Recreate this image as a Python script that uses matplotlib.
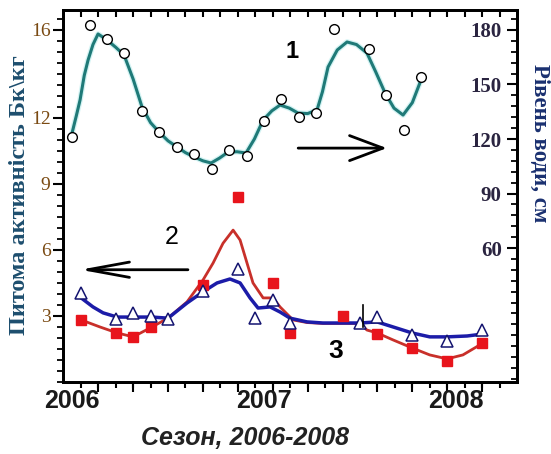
import numpy as np
import matplotlib.pyplot as plt

# Місяці від початку сезону (0 = 2006)
# 1 - рівень води (кружки), права вісь
level_month = [0, 1, 2, 3, 4, 5, 6, 7, 8, 9, 10, 11, 12, 13, 14, 15, 17, 18, 19, 20]
level_value = [121, 182.7, 175, 167.3, 135.4, 123.8, 115.6, 111.7, 103.5, 113.9,
               110.6, 129.9, 142, 132.1, 134.3, 180.5, 169.5, 144.2, 124.9, 154.1]
# згладжена крива рівня води
level_curve_month = [0, 0.25, 0.46, 0.7, 0.92, 1.2, 1.49, 2.0, 2.5, 2.98, 3.5, 4.01, 4.5,
                     4.99, 5.5, 6.02, 6.5, 7.0, 7.5, 7.97, 8.45, 8.94, 9.45, 9.97, 10.45,
                     10.95, 11.45, 11.92, 12.45, 12.95, 13.5, 14.04, 14.35, 14.67, 15.2,
                     15.76, 16.3, 16.9, 17.4, 17.94, 18.45, 18.97, 19.5, 20]
level_curve_value = [123.3, 133, 141.5, 155, 163.5, 172, 177.8, 174.5, 170.5, 166.2, 153,
                     137.6, 129, 123.8, 119, 115.6, 112.5, 110.1, 108, 106.8, 109.5, 112.8,
                     113, 112.3, 120, 130.4, 135.5, 138.7, 137, 134.3, 134, 136, 146, 159.6,
                     169, 173.4, 172, 167.3, 157, 145.3, 137, 133.2, 140, 152.5]

# 2 - питома активність (трикутники), ліва вісь
tri_month = [0.5, 2.5, 3.5, 4.5, 5.5, 7.5, 9.5, 10.5, 11.5, 12.5, 16.5, 17.5, 19.5, 21.5, 23.5]
tri_value = [4.05, 2.86, 3.14, 3.0, 2.86, 4.14, 5.14, 2.9, 3.73, 2.68, 2.68, 2.95, 2.14, 1.86, 2.36]
blue_curve_month = [0.52, 1.2, 1.78, 2.58, 3.55, 4.58, 5.5, 6.59, 7.51, 8.31, 9.05, 9.63,
                    10.2, 10.66, 11.35, 11.92, 12.49, 13.47, 14.38, 16.5, 17.48, 18.4,
                    19.48, 20.5, 21.49, 22.64, 23.55]
blue_curve_value = [3.82, 3.41, 3.14, 2.95, 2.95, 2.95, 2.9, 3.59, 4.1, 4.5, 4.68, 4.5,
                    3.82, 3.36, 3.41, 3.18, 2.9, 2.73, 2.68, 2.68, 2.73, 2.5, 2.23, 2.05,
                    2.05, 2.09, 2.18]

# 3 - питома активність (квадрати), ліва вісь
sq_month = [0.5, 2.5, 3.5, 4.5, 7.5, 9.5, 11.5, 12.5, 15.5, 17.5, 19.5, 21.5, 23.5]
sq_value = [2.82, 2.23, 2.05, 2.5, 4.41, 8.4, 4.5, 2.23, 3.0, 2.18, 1.55, 0.95, 1.77]
red_curve_month = [0.52, 1.6, 2.58, 3.5, 4.58, 5.5, 6.59, 7.51, 8.08, 8.65, 9.23, 9.63,
                   10.37, 10.95, 11.52, 11.92, 12.66, 13.47, 14.38, 16.5, 16.9, 17.48,
                   18.4, 19.48, 20.5, 21.49, 22.4, 23.55]
red_curve_value = [2.82, 2.5, 2.23, 2.05, 2.5, 2.9, 3.64, 4.64, 5.4, 6.3, 6.9, 6.45, 4.5,
                   3.82, 3.82, 3.41, 2.82, 2.7, 2.66, 2.66, 2.36, 2.23, 1.91, 1.55, 1.23,
                   1.05, 1.23, 1.77]

year_pos = [0, 11, 22]
year_labels = ['2006', '2007', '2008']

fig = plt.figure(figsize=(5.51, 4.54), dpi=100)
ax = fig.add_axes([0.1143, 0.1586, 0.824, 0.8194])
ax2 = ax.twinx()

# нижні криві
ax.plot(red_curve_month, red_curve_value, color='#c8302a', lw=2, zorder=2)
ax.plot(blue_curve_month, blue_curve_value, color='#1c1ca8', lw=2.5, zorder=3)
ax.plot(sq_month, sq_value, 's', color='#e8141c', ms=6.5, zorder=4)
ax.plot(tri_month, tri_value, '^', mfc='white', mec='#141470', mew=1.1, ms=9, zorder=5)

# крива 1
ax2.plot(level_curve_month, level_curve_value, color='#a8e8e8', lw=4, alpha=0.5, zorder=2)
ax2.plot(level_curve_month, level_curve_value, color='#1f7a78', lw=2.2, zorder=3)
ax2.plot(level_month, level_value, 'o', mfc='white', mec='black', mew=1, ms=7, zorder=4)

ax.set_xlim(-0.52, 25.5)
ax.set_ylim(0, 16.9)
ax2.set_ylim(-13.7, 191)

# підписи років і штрихи
ax.set_xticks(year_pos, year_labels, fontsize=18, fontfamily='Liberation Sans', fontweight='bold',
              color='#1a1a1a')
ax.tick_params(axis='x', which='major', length=0, pad=5)
ax.set_xticks(np.arange(0.5, 25.5, 1), minor=True)
ax.tick_params(axis='x', which='minor', direction='out', length=4, width=1.5)
sec = ax.secondary_xaxis('bottom')
sec.set_xticks(np.arange(1.5, 25.5, 2), labels=[])
sec.tick_params(length=7, width=1.5)
sec.spines['bottom'].set_visible(False)
top = ax.secondary_xaxis('top')
top.set_xticks(np.arange(0.5, 25.5, 1), labels=[])
top.tick_params(direction='in', length=5, width=1.5)
top.spines['top'].set_visible(False)

ax.set_yticks([3, 6, 9, 12, 16])
ax.set_yticklabels(['3', '6', '9', '12', '16'], fontfamily='Liberation Serif', fontsize=14,
                   color='#7a4a12')
ax.set_yticks(np.arange(0, 17, 0.5), minor=True)
ax.tick_params(axis='y', which='major', direction='out', length=7, width=1.5, pad=2)
ax.tick_params(axis='y', which='minor', direction='out', length=4, width=1.3)

ax2.set_yticks([60, 90, 120, 150, 180])
ax2.set_yticklabels(['60', '90', '120', '150', '180'], fontfamily='Liberation Serif',
                    fontsize=15, fontweight='bold', color='#2a2440')
ax2.set_yticks(np.arange(-12, 191, 6), minor=True)
ax2.tick_params(axis='y', which='major', direction='in', length=7, width=1.5, pad=-11,
                labelleft=False)
ax2.tick_params(axis='y', which='minor', direction='in', length=4, width=1.3)
for lbl in ax2.get_yticklabels():
    lbl.set_horizontalalignment('right')

for s in ax.spines.values():
    s.set_linewidth(2)
for s in ax2.spines.values():
    s.set_linewidth(2)

fig.text(20 / 551, 1 - 195 / 454, 'Питома активність Бк\\кг', family='Liberation Serif',
         fontsize=17.5, fontweight='bold', color='#1d4e6e', rotation=90,
         ha='center', va='center')
fig.text(540 / 551, 1 - 143 / 454, 'Рівень води, см', family='Liberation Serif',
         fontsize=16.5, fontweight='bold', color='#1a3070', rotation=-90,
         ha='center', va='center')
fig.text(245 / 551, 1 - 438 / 454, 'Сезон, 2006-2008', family='Liberation Sans',
         fontsize=18, fontweight='bold', fontstyle='italic', color='#222222',
         ha='center', va='center')

# номери кривих і стрілки
ax2.text(12.6, 168, '1', fontsize=17, fontweight='bold', fontfamily='Liberation Sans',
         ha='center', va='center')
ax.text(5.7, 6.6, '2', fontsize=18, fontfamily='Liberation Sans', ha='center', va='center')
ax.text(15.1, 1.4, '3', fontsize=19, fontweight='bold', fontfamily='Liberation Sans',
        ha='center', va='center')
ax2.annotate('', xy=(18.2, 115), xytext=(12.8, 115),
             arrowprops=dict(arrowstyle='->,head_length=2.4,head_width=0.9', lw=2, color='black'))
ax.annotate('', xy=(0.3, 5.1), xytext=(6.8, 5.1),
            arrowprops=dict(arrowstyle='->,head_length=3.0,head_width=0.55', lw=2, color='black'))
ax.plot([16.7, 16.7], [2.5, 3.5], color='black', lw=1.2, zorder=6)

fig.savefig('out.png', dpi=100)
